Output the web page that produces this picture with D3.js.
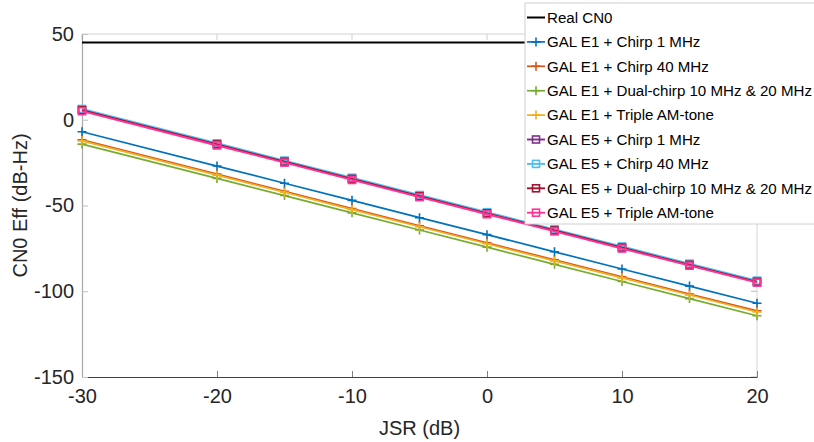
<!DOCTYPE html>
<html><head><meta charset="utf-8">
<script src="https://cdn.jsdelivr.net/npm/d3@7/dist/d3.min.js"></script>
<style>body{margin:0;background:#fff;} svg{display:block;font-family:"Liberation Sans",Arial,sans-serif;}</style>
</head><body>
<svg id="c" width="814" height="442"></svg>
<script>
const jsr = [-30, -20, -15, -10, -5, 0, 5, 10, 15, 20];
const realCN0 = [45, 45, 45, 45, 45, 45, 45, 45, 45, 45];
const e1Chirp1 = [-7, -27, -37, -47, -57.1, -67, -77, -87, -97, -107];
const e1Chirp40 = [-11.7, -31.7, -41.7, -51.8, -61.8, -71.7, -81.7, -91.6, -101.6, -111.4];
const e1Dual = [-14.2, -34.2, -44.2, -54.3, -64.3, -74.3, -84.3, -94.3, -104.3, -114.3];
const e1Triple = [-12.3, -32.3, -42.3, -52.4, -62.4, -72.3, -82.3, -92.2, -102.2, -112.1];
const e5Chirp1 = [5.8, -14.2, -24.3, -34.3, -44.4, -54.4, -64.4, -74.4, -84.4, -94.3];
const e5Chirp40 = [6.3, -13.7, -23.8, -33.8, -43.9, -53.9, -63.9, -73.9, -83.9, -93.8];
const e5Dual = [5.6, -14.4, -24.5, -34.5, -44.6, -54.6, -64.6, -74.6, -84.6, -94.5];
const e5Triple = [5.0, -15.0, -25.0, -35.1, -45.1, -55.1, -65.1, -75.1, -85.1, -95.0];
const xTicks = [-30, -20, -10, 0, 10, 20];
const yTicks = [-150, -100, -50, 0, 50];

const series = [
  {name:"Real CN0", vals:realCN0, color:"#000000", marker:null, w:2},
  {name:"GAL E1 + Chirp 1 MHz", vals:e1Chirp1, color:"#0072BD", marker:"plus", w:1.7},
  {name:"GAL E1 + Chirp 40 MHz", vals:e1Chirp40, color:"#D95319", marker:"plus", w:1.7},
  {name:"GAL E1 + Dual-chirp 10 MHz & 20 MHz", vals:e1Dual, color:"#77AC30", marker:"plus", w:1.7},
  {name:"GAL E1 + Triple AM-tone", vals:e1Triple, color:"#EDB120", marker:"plus", w:1.7},
  {name:"GAL E5 + Chirp 1 MHz", vals:e5Chirp1, color:"#7E2F8E", marker:"square", w:1.9},
  {name:"GAL E5 + Chirp 40 MHz", vals:e5Chirp40, color:"#4DBEEE", marker:"square", w:1.9},
  {name:"GAL E5 + Dual-chirp 10 MHz & 20 MHz", vals:e5Dual, color:"#A2142F", marker:"square", w:1.9},
  {name:"GAL E5 + Triple AM-tone", vals:e5Triple, color:"#FF3399", marker:"square", w:1.9}
];

const L=82, R=757, T=34, B=377;
const x = d3.scaleLinear().domain([-30,20]).range([L,R]);
const y = d3.scaleLinear().domain([-150,50]).range([B,T]);
const svg = d3.select("#c");

svg.append("line").attr("x1",L).attr("x2",R).attr("y1",T).attr("y2",T).attr("stroke","#d4d4d4").attr("stroke-width",1);
svg.append("line").attr("x1",R).attr("x2",R).attr("y1",T).attr("y2",B).attr("stroke","#d4d4d4").attr("stroke-width",1);
xTicks.forEach(t=>{svg.append("line").attr("x1",x(t)).attr("x2",x(t)).attr("y1",T).attr("y2",T+6).attr("stroke","#d0d0d0");});
yTicks.forEach(t=>{svg.append("line").attr("x1",R).attr("x2",R-6).attr("y1",y(t)).attr("y2",y(t)).attr("stroke","#bbbbbb");});

const xAxis = svg.append("g").attr("transform",`translate(0,${B})`)
  .call(d3.axisBottom(x).tickValues(xTicks).tickSizeInner(-6).tickSizeOuter(0).tickPadding(12).tickFormat(d=>d));
xAxis.select(".domain").attr("stroke","#404040").attr("stroke-width",1.2);
xAxis.selectAll(".tick line").attr("stroke","#808080");
xAxis.selectAll("text").attr("font-size",20).attr("fill","#262626").attr("font-family","Liberation Sans, Arial, sans-serif");

const yAxis = svg.append("g").attr("transform",`translate(${L},0)`)
  .call(d3.axisLeft(y).tickValues(yTicks).tickSizeInner(-6).tickSizeOuter(0).tickPadding(8).tickFormat(d=>d));
yAxis.select(".domain").attr("stroke","#a8a8a8").attr("stroke-width",1.2);
yAxis.selectAll(".tick line").attr("stroke","#c0c0c0");
yAxis.selectAll("text").attr("font-size",20).attr("fill","#262626").attr("font-family","Liberation Sans, Arial, sans-serif");

svg.append("text").attr("x",(L+R)/2).attr("y",435).attr("text-anchor","middle").attr("font-size",20).attr("fill","#262626").text("JSR (dB)");
svg.append("text").attr("transform",`translate(27,${(T+B)/2}) rotate(-90)`).attr("text-anchor","middle").attr("font-size",20).attr("fill","#262626").text("CN0 Eff (dB-Hz)");

const line = d3.line().x((d,i)=>x(jsr[i])).y(d=>y(d));
function drawMarker(g, cx, cy, type, color){
  if(type==="plus"){
    g.append("path").attr("d",`M${cx-4.5},${cy}H${cx+4.5}M${cx},${cy-4.5}V${cy+4.5}`).attr("stroke",color).attr("stroke-width",1.6).attr("fill","none");
  } else if(type==="square"){
    g.append("rect").attr("x",cx-3.5).attr("y",cy-3.5).attr("width",7).attr("height",7).attr("stroke",color).attr("stroke-width",1.6).attr("fill","none");
  }
}
const plot = svg.append("g");
series.forEach(s=>{
  plot.append("path").datum(s.vals).attr("d",line).attr("fill","none").attr("stroke",s.color).attr("stroke-width",s.w);
  if(s.marker){
    s.vals.forEach((v,i)=>drawMarker(plot, x(jsr[i]), y(v), s.marker, s.color));
  }
});

const lg = svg.append("g");
lg.append("rect").attr("x",525).attr("y",3).attr("width",295).attr("height",221).attr("fill","#fff").attr("stroke","#d0d0d0").attr("stroke-width",1);
series.forEach((s,i)=>{
  const yy = 17.5 + i*24.4;
  lg.append("line").attr("x1",527).attr("x2",545).attr("y1",yy).attr("y2",yy).attr("stroke",s.color).attr("stroke-width",s.w);
  if(s.marker) drawMarker(lg, 536, yy, s.marker, s.color);
  lg.append("text").attr("x",547).attr("y",yy+5.3).attr("font-size",15.1).attr("fill","#000").text(s.name);
});
</script>
</body></html>
